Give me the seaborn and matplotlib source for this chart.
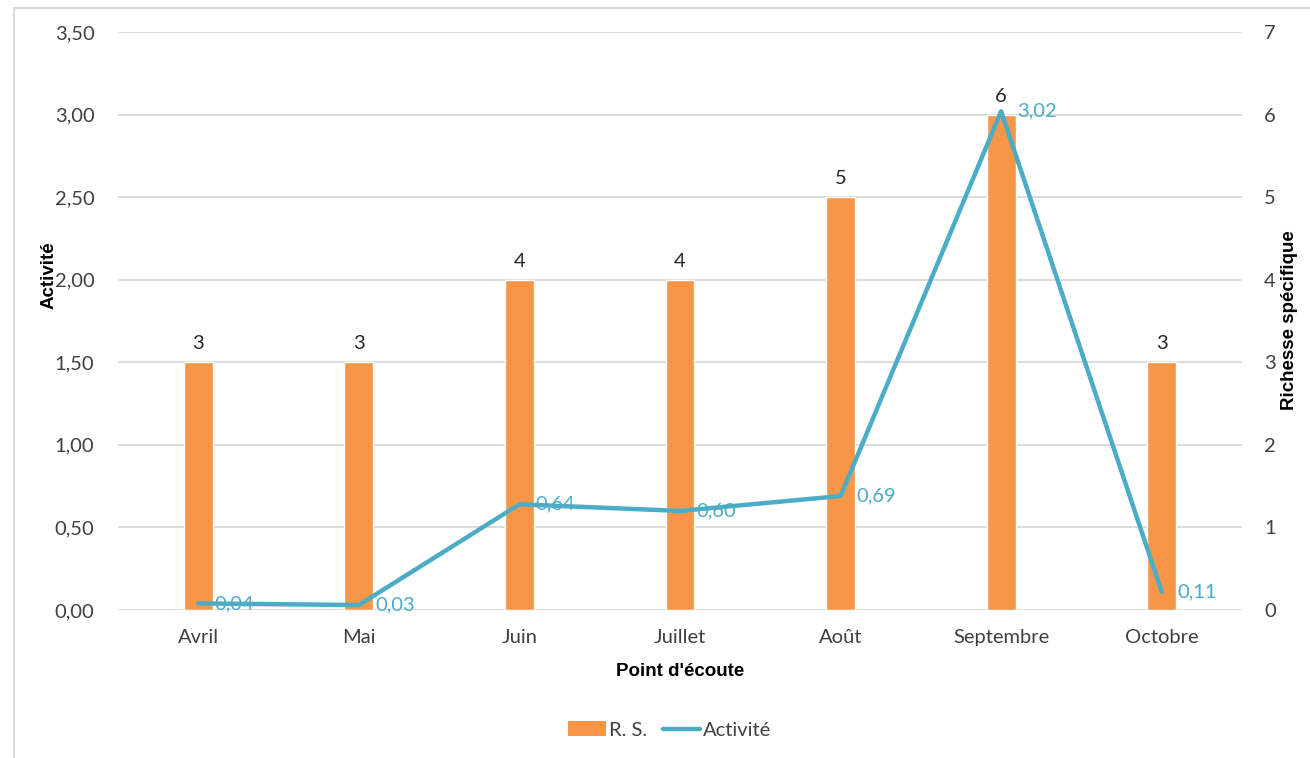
import matplotlib
matplotlib.use("Agg")
import matplotlib.pyplot as plt
from matplotlib.ticker import FuncFormatter, MultipleLocator
from matplotlib.patches import Patch
from matplotlib.lines import Line2D
import seaborn as sns
import pandas as pd

# Monthly survey results
mois = ["Avril", "Mai", "Juin", "Juillet", "Août", "Septembre", "Octobre"]
richesse = [3, 3, 4, 4, 5, 6, 3]
activite = [0.04, 0.03, 0.64, 0.60, 0.69, 3.02, 0.11]

ORANGE = "#F79646"
BLEU = "#4BACC6"
GRIS = "#D9D9D9"
TEXTE = "#404040"
W, H = 1310, 758

sns.set_theme(style="white")
plt.rcParams["font.family"] = ["Lato", "DejaVu Sans"]

df = pd.DataFrame({"mois": mois, "rs": richesse, "act": activite})

fig = plt.figure(figsize=(W / 100, H / 100), dpi=100)
ax = fig.add_axes([118 / W, 1 - 610 / H, (1242 - 118) / W, (610 - 32) / H])
ax_bar = ax.twinx()

# bars: species richness on the right axis
sns.barplot(data=df, x="mois", y="rs", ax=ax_bar, color=ORANGE, width=0.18,
            saturation=1, zorder=2)
ax_bar.set_ylim(0, 7)
ax_bar.yaxis.set_major_locator(MultipleLocator(1))
ax_bar.grid(axis="y", color=GRIS, linewidth=1.3, zorder=0)
ax_bar.set_axisbelow(True)
for i, v in enumerate(richesse):
    ax_bar.text(i, v + 0.12, f"{v}", ha="center", va="bottom",
                fontsize=14.5, color="#262626")

# line: activity on the left axis, drawn above the bars
ax.set_zorder(ax_bar.get_zorder() + 1)
ax.patch.set_visible(False)
sns.lineplot(data=df, x="mois", y="act", ax=ax, color=BLEU, linewidth=3.2,
             sort=False)
ax.set_ylim(0, 3.5)
ax.yaxis.set_major_locator(MultipleLocator(0.5))
ax.yaxis.set_major_formatter(FuncFormatter(lambda v, p: f"{v:.2f}".replace(".", ",")))
for i, v in enumerate(activite):
    ax.text(i + 0.1, v, f"{v:.2f}".replace(".", ","), ha="left", va="center",
            fontsize=14.5, color=BLEU)

ax.set_xlim(-0.5, 6.5)
ax_bar.set_xlim(-0.5, 6.5)

for a in (ax, ax_bar):
    for s in a.spines.values():
        s.set_visible(False)
    a.tick_params(length=0, labelsize=14.5, labelcolor=TEXTE)
ax.tick_params(axis="y", pad=17)
ax.tick_params(axis="x", pad=14)
ax_bar.tick_params(axis="y", pad=16)
ax_bar.set_xlabel("")

lab = dict(fontsize=13.5, fontweight="bold", color="black",
           family=["Liberation Sans", "DejaVu Sans"])
ax.set_xlabel("Point d'écoute", **lab)
ax.set_ylabel("Activité", **lab)
ax_bar.set_ylabel("Richesse spécifique", **lab)
ax.xaxis.set_label_coords(680 / W, 1 - 672 / H, transform=fig.transFigure)
ax.yaxis.set_label_coords(49 / W, 1 - 275 / H, transform=fig.transFigure)
ax_bar.yaxis.set_label_coords(1290 / W, 1 - 320 / H, transform=fig.transFigure)
ax.yaxis.label.set_va("center")
ax_bar.yaxis.label.set_va("center")
ax.xaxis.label.set_va("center")

handles = [Patch(facecolor=ORANGE, edgecolor="none"),
           Line2D([0], [0], color=BLEU, linewidth=3.2)]
fig.legend(handles, ["R. S.", "Activité"], loc="center",
           bbox_to_anchor=(670 / W, 1 - 730 / H), ncol=2, frameon=False,
           fontsize=14.5, handlelength=1.85, handletextpad=0.15,
           columnspacing=0.8, labelcolor=TEXTE)

# outer frame (left and top edges)
fig.add_artist(Line2D([14 / W, 14 / W], [0, 1 - 8 / H],
                      transform=fig.transFigure, color=GRIS, linewidth=1.5))
fig.add_artist(Line2D([14 / W, 1], [1 - 8 / H, 1 - 8 / H],
                      transform=fig.transFigure, color=GRIS, linewidth=1.5))

fig.savefig("out.png", dpi=100)
